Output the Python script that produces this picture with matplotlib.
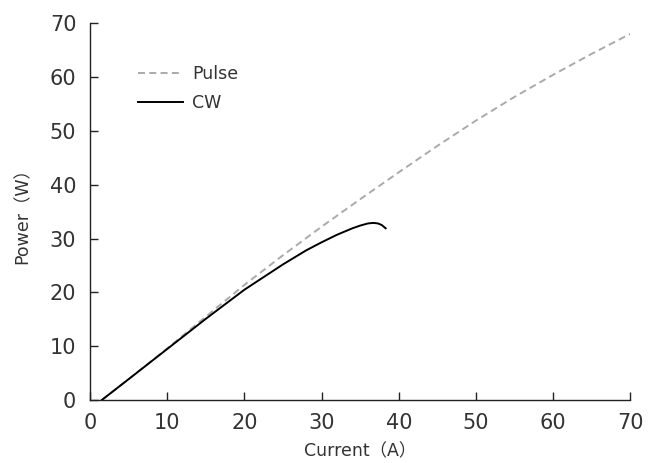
import matplotlib
matplotlib.use("Agg")
import matplotlib.pyplot as plt

plt.rcParams['font.family'] = ['DejaVu Sans', 'Noto Sans CJK JP']

# pulse operation: current (A) vs output power (W)
pulse_current = [1.5, 5, 10, 15, 20, 25, 30, 35, 40, 45, 50, 55, 60, 65, 70]
pulse_power = [0, 3.9, 9.6, 15.5, 21.4, 26.9, 32.2, 37.3, 42.3, 47.2, 51.9, 56.3, 60.4, 64.3, 68.0]

# continuous wave operation, rolls over thermally near 37 A
cw_current = [1.5, 5, 10, 15, 20, 25, 28, 30, 32, 34, 35, 36, 36.7, 37.3, 37.8, 38.3]
cw_power = [0, 3.9, 9.5, 15.1, 20.5, 25.2, 27.8, 29.3, 30.7, 31.9, 32.4, 32.8, 32.9, 32.8, 32.5, 31.9]

fig = plt.figure(figsize=(6.49, 4.63), dpi=100)
ax = fig.add_axes([0.139, 0.136, 0.832, 0.814])

ax.plot(pulse_current, pulse_power, color='#aaaaaa', lw=1.4, ls=(0, (3.6, 2.2)), label='Pulse')
ax.plot(cw_current, cw_power, color='black', lw=1.4, label='CW')

ax.set_xlim(0, 70)
ax.set_ylim(0, 70)
ax.set_xticks(range(0, 71, 10))
ax.set_yticks(range(0, 71, 10))

for s in ['top', 'right']:
    ax.spines[s].set_visible(False)
for s in ['left', 'bottom']:
    ax.spines[s].set_linewidth(1.0)
    ax.spines[s].set_color('#222222')

ax.tick_params(direction='in', length=6, width=1.0, color='#222222',
               labelsize=15, labelcolor='#333333')
ax.tick_params(axis='x', pad=9)
ax.tick_params(axis='y', pad=10)
ax.set_xlabel('Current（A）', fontsize=12.5, color='#333333', labelpad=7)
ax.set_ylabel('Power（W）', fontsize=12.5, color='#333333', labelpad=13)

ax.legend(loc='upper left', bbox_to_anchor=(0.06, 0.93), frameon=False,
          fontsize=12.5, handlelength=2.6, handletextpad=0.5,
          labelcolor='#333333', labelspacing=0.65)

fig.savefig('out.png', dpi=100)
